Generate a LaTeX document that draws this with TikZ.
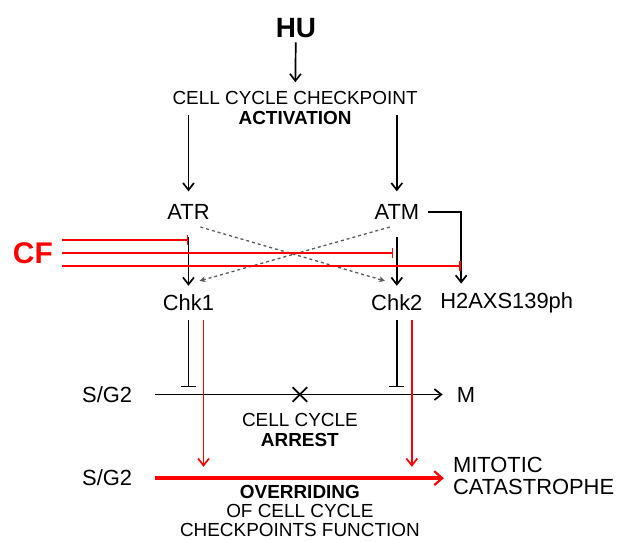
\documentclass[tikz,border=0pt]{standalone}
\usepackage{fontspec}
\setmainfont{Liberation Sans}
\usepackage{tikz}
\usetikzlibrary{arrows.meta, positioning, shapes.misc, calc}

\begin{document}
\begin{tikzpicture}[font=\fontsize{22}{24}\selectfont,
  lbl/.style={inner sep=9pt},
  captxt/.style={inner sep=0pt, align=center, font=\fontsize{19}{20}\selectfont},
  arr/.style={line width=1.7pt, -{Straight Barb[length=7pt, width=11pt, line width=1.7pt]}},
  inh/.style={line width=1.7pt, -{Bar[width=15pt, line width=1.7pt]}},
  dsh/.style={black!65, dashed, line width=1.3pt, -{Stealth[length=6pt, width=6pt]}},
  redarr/.style={arr, red},
  redinh/.style={red, line width=1.7pt, -{Bar[width=10pt, line width=1.7pt]}},
  fatarr/.style={red, line width=3.8pt, -{Straight Barb[length=8pt, width=14pt, line width=2.2pt]}}]

\useasboundingbox (0,0) rectangle (21.98,19.09);

\node[font=\fontsize{28}{30}\selectfont\bfseries] (hu) at (10.44,18.10) {HU};
\node[captxt] (act) at (10.41,15.28) {CELL CYCLE CHECKPOINT\\\textbf{ACTIVATION}};
\draw[arr, shorten <=1pt, shorten >=9pt] (hu) -- (act);

\node[lbl] (atr) at (6.65,11.61) {ATR};
\node[lbl] (atm) at (14.00,11.61) {ATM};
\draw[arr, shorten >=4pt] (act.center -| atr) ++(0,-0.25) -- (atr);
\draw[arr, shorten >=4pt] (act.center -| atm) ++(0,-0.25) -- (atm);

\node[lbl] (chk1) at (6.65,8.40) {Chk1};
\node[lbl] (chk2) at (14.00,8.40) {Chk2};
\node[lbl, anchor=west] (h2ax) at (15.21,8.40) {H2AXS139ph};

\draw[arr, shorten <=8pt] (atr) -- (chk1);
\draw[arr, shorten <=8pt] (atm) -- (chk2);
\draw[arr] (atm.east) -| ($(h2ax.north west)+(1.06,0)$);

\draw[dsh] ($(atr)+(0.42,-0.53)$) -- ($(chk2)+(-0.42,0.78)$);
\draw[dsh] ($(atm)+(-0.25,-0.53)$) -- ($(chk1)+(0.39,0.78)$);

\node[lbl, red, font=\fontsize{30}{32}\selectfont\bfseries] (cf) at (1.16,10.16) {CF};
\draw[redinh] (cf.east |- 0,10.62) -- (atr |- 0,10.62);
\draw[redinh] (cf.east |- 0,10.16) -- ($(atm |- 0,10.16)+(-0.12,0)$);
\draw[redinh] (cf.east |- 0,9.70) -- ($(h2ax.west |- 0,9.70)+(1.06,0)$);

\node[lbl] (sg2a) at (3.78,5.17) {S/G2};
\node[lbl] (m) at (16.44,5.17) {M};
\draw[arr, shorten <=14pt, shorten >=5pt] (sg2a) -- (m);
\node[draw, cross out, line width=1.8pt, inner sep=0pt, minimum size=0.45cm] (blk) at (10.58,5.17) {};
\node[captxt] (arrest) at (10.58,3.92) {CELL CYCLE\\\textbf{ARREST}};

\draw[inh] (chk1.south) -- ($(chk1 |- sg2a)+(0,0.25)$);
\draw[inh] (chk2.south) -- ($(chk2 |- sg2a)+(0,0.25)$);

\node[lbl] (sg2b) at (3.78,2.22) {S/G2};
\node[lbl, anchor=west, align=left, font=\fontsize{22}{22}\selectfont] (mitotic) at (15.66,2.29) {MITOTIC\\CATASTROPHE};
\draw[fatarr, shorten <=14pt] (sg2b) -- (sg2b -| mitotic.west);

\draw[redarr] ($(chk1.south)+(0.53,0)$) -- ($(chk1 |- sg2b)+(0.53,0.4)$);
\draw[redarr] ($(chk2.south)+(0.53,0)$) -- ($(chk2 |- sg2b)+(0.53,0.4)$);

\node[captxt, font=\fontsize{19}{19}\selectfont] (override) at (10.58,1.07) {\textbf{OVERRIDING}\\OF CELL CYCLE\\CHECKPOINTS FUNCTION};

\end{tikzpicture}
\end{document}
